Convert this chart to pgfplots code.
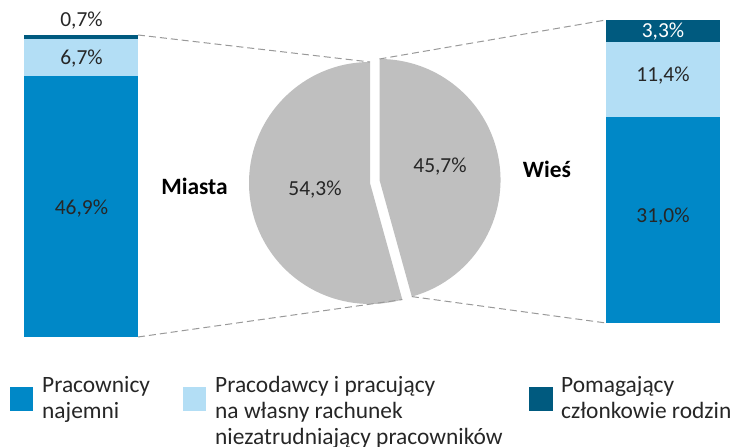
\documentclass[border=0pt]{standalone}
\usepackage{pgfplots}
\pgfplotsset{compat=1.18}
\usepackage{fontspec}
\setmainfont{Carlito}
\definecolor{cA}{HTML}{0088C7}
\definecolor{cB}{HTML}{B3DEF5}
\definecolor{cC}{HTML}{005A7F}
\definecolor{piec}{HTML}{BFBFBF}
\definecolor{dashc}{HTML}{999999}
\definecolor{txt}{HTML}{262626}
\begin{document}
\begin{tikzpicture}[x=1bp,y=1bp]
\useasboundingbox (0,0) rectangle (734,447);
% ---- left bar: Miasta
\begin{axis}[at={(24bp,110bp)}, anchor=south west, scale only axis,
  width=114bp, height=302bp, xmin=-0.5, xmax=0.5, ymin=0, ymax=54.3,
  hide axis, clip=false, ybar stacked, bar width=114bp]
\addplot[fill=cA, draw=none] coordinates {(0,46.9)};
\addplot[fill=cB, draw=none] coordinates {(0,6.7)};
\addplot[fill=cC, draw=none] coordinates {(0,0.7)};
\end{axis}
% ---- right bar: Wies
\begin{axis}[at={(606bp,124bp)}, anchor=south west, scale only axis,
  width=114bp, height=303bp, xmin=-0.5, xmax=0.5, ymin=0, ymax=45.7,
  hide axis, clip=false, ybar stacked, bar width=114bp]
\addplot[fill=cA, draw=none] coordinates {(0,31.0)};
\addplot[fill=cB, draw=none] coordinates {(0,11.4)};
\addplot[fill=cC, draw=none] coordinates {(0,3.3)};
\end{axis}
% ---- main canvas axis: pie, connectors, labels, legend
\begin{axis}[at={(0bp,0bp)}, anchor=south west, scale only axis,
  width=734bp, height=447bp, xmin=0, xmax=734, ymin=0, ymax=447,
  hide axis, clip=false]
\pgfmathsetmacro{\vM}{54.3}
\pgfmathsetmacro{\vW}{45.7}
\pgfmathsetmacro{\aM}{90+\vM*3.6}
\pgfmathsetmacro{\aW}{90-\vW*3.6}
% Miasta slice (exploded left)
\fill[piec] (axis cs:370,264) -- ++(90:121bp) arc[start angle=90, end angle=\aM, radius=121bp] -- cycle;
% Wies slice (exploded right)
\fill[piec] (axis cs:379.5,267) -- ++(\aW:121bp) arc[start angle=\aW, end angle=90, radius=121bp] -- cycle;
% connectors
\draw[dashc, line width=1bp, dash pattern=on 7bp off 4bp] (axis cs:138,412) -- (axis cs:370,385);
\draw[dashc, line width=1bp, dash pattern=on 7bp off 4bp] (axis cs:138,110) -- (axis cs:402.3,147.4);
\draw[dashc, line width=1bp, dash pattern=on 7bp off 4bp] (axis cs:379.5,388) -- (axis cs:606,427);
\draw[dashc, line width=1bp, dash pattern=on 7bp off 4bp] (axis cs:411.8,150.4) -- (axis cs:606,124);
% pie labels
\tikzset{lab/.style={txt, anchor=base, inner sep=0pt, font=\fontsize{21.5}{24}\selectfont}}
\node[lab] at (axis cs:315,251) {54,3\%};
\node[lab] at (axis cs:440,274) {45,7\%};
\node[black, anchor=base, inner sep=0pt, font=\fontsize{23.5}{26}\selectfont\bfseries] at (axis cs:194.5,252) {Miasta};
\node[black, anchor=base, inner sep=0pt, font=\fontsize{23.5}{26}\selectfont\bfseries] at (axis cs:547,269) {Wieś};
% bar labels
\node[lab] at (axis cs:81.5,232) {46,9\%};
\node[lab] at (axis cs:81.5,382) {6,7\%};
\node[lab] at (axis cs:81.5,420) {0,7\%};
\node[lab] at (axis cs:663,224) {31,0\%};
\node[lab] at (axis cs:663,365) {11,4\%};
\node[lab, white] at (axis cs:663,409.5) {3,3\%};
% legend
\fill[cA] (axis cs:10,36) rectangle (axis cs:33,60);
\fill[cB] (axis cs:183,36) rectangle (axis cs:206,60);
\fill[cC] (axis cs:529,36) rectangle (axis cs:553,60);
\tikzset{leg/.style={txt, anchor=base west, inner sep=0pt, font=\fontsize{23.5}{26.5}\selectfont}}
\node[leg] at (axis cs:42,54) {Pracownicy};
\node[leg] at (axis cs:42,28) {najemni};
\node[leg] at (axis cs:215,54) {Pracodawcy i pracujący};
\node[leg] at (axis cs:215,28) {na własny rachunek};
\node[leg] at (axis cs:215,2) {niezatrudniający pracowników};
\node[leg] at (axis cs:561,54) {Pomagający};
\node[leg] at (axis cs:561,28) {członkowie rodzin};
\end{axis}
\end{tikzpicture}
\end{document}
